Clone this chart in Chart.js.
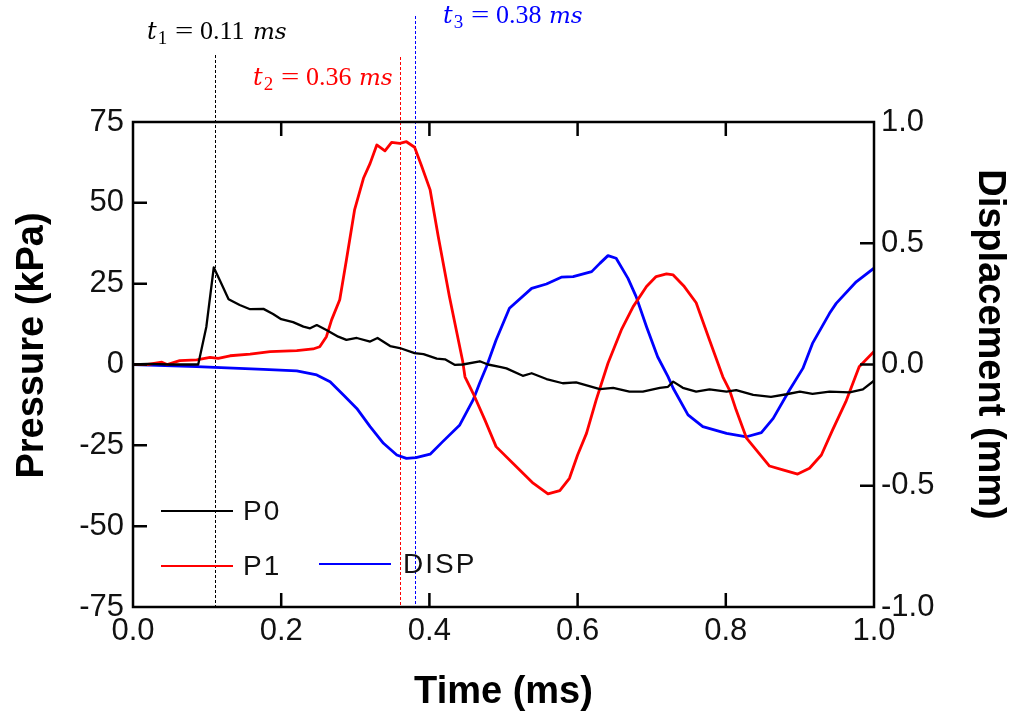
<!DOCTYPE html>
<html>
<head>
<meta charset="utf-8">
<script src="https://cdn.jsdelivr.net/npm/chart.js@4.4.1/dist/chart.umd.min.js"></script>
<style>
  html, body { margin: 0; padding: 0; background: #fff; overflow: hidden; }
  canvas { display: block; }
</style>
</head>
<body>
<canvas id="chart" width="1013" height="715"></canvas>
<script>
// Pressure at gauge P0 (kPa)
const p0Time = [0, 0.02, 0.05, 0.088, 0.099, 0.109, 0.117, 0.129, 0.144, 0.158, 0.176, 0.189, 0.2, 0.216, 0.23, 0.239, 0.248, 0.261, 0.277, 0.288, 0.302, 0.32, 0.33, 0.347, 0.36, 0.38, 0.392, 0.41, 0.421, 0.434, 0.445, 0.468, 0.479, 0.495, 0.504, 0.526, 0.538, 0.558, 0.58, 0.598, 0.63, 0.648, 0.67, 0.688, 0.711, 0.722, 0.729, 0.742, 0.76, 0.778, 0.801, 0.814, 0.837, 0.861, 0.882, 0.9, 0.917, 0.94, 0.967, 0.985, 1.0];
const p0Values = [0, 0.2, 0, 0, 11.7, 30.0, 26.1, 20.2, 18.4, 17.1, 17.2, 15.6, 14.0, 13.1, 11.7, 11.2, 12.2, 10.7, 8.6, 7.6, 8.2, 7.1, 8.2, 5.7, 5.1, 3.5, 3.2, 1.8, 1.6, -0.1, 0, 1.0, 0, -0.7, -1.2, -3.5, -2.7, -4.5, -5.8, -5.5, -7.6, -7.2, -8.4, -8.4, -7.2, -6.9, -5.3, -7.2, -8.4, -7.7, -8.4, -7.9, -9.4, -10.0, -9.2, -8.4, -9.1, -8.4, -8.6, -7.7, -5.0];

// Pressure at gauge P1 (kPa)
const p1Time = [0, 0.02, 0.039, 0.046, 0.063, 0.086, 0.104, 0.115, 0.131, 0.158, 0.185, 0.221, 0.243, 0.252, 0.261, 0.268, 0.279, 0.288, 0.299, 0.311, 0.32, 0.329, 0.34, 0.349, 0.36, 0.369, 0.38, 0.389, 0.401, 0.412, 0.427, 0.445, 0.448, 0.459, 0.475, 0.49, 0.513, 0.54, 0.56, 0.576, 0.589, 0.6, 0.612, 0.625, 0.641, 0.659, 0.675, 0.693, 0.706, 0.72, 0.729, 0.744, 0.76, 0.778, 0.796, 0.805, 0.814, 0.828, 0.841, 0.859, 0.877, 0.897, 0.913, 0.929, 0.944, 0.962, 0.98, 1.0];
const p1Values = [0, 0, 0.7, 0, 1.2, 1.4, 2.2, 1.9, 2.7, 3.2, 4.0, 4.3, 4.8, 5.5, 8.6, 13.8, 20.0, 32.3, 47.8, 57.6, 62.2, 67.9, 66.1, 68.7, 68.4, 68.9, 67.2, 61.7, 54.0, 39.5, 21.0, 0.9, -3.8, -8.9, -17.2, -25.4, -30.6, -36.7, -40.0, -39.0, -35.2, -28.0, -21.3, -11.0, 0.4, 10.7, 17.9, 24.1, 27.2, 28.0, 27.7, 24.1, 19.1, 7.6, -3.8, -7.9, -14.1, -22.8, -26.4, -31.4, -32.6, -33.9, -32.1, -28.0, -20.3, -11.5, -0.7, 4.0];

// Displacement (mm)
const dispTime = [0, 0.086, 0.176, 0.221, 0.248, 0.266, 0.284, 0.302, 0.32, 0.338, 0.356, 0.369, 0.382, 0.401, 0.418, 0.441, 0.459, 0.468, 0.477, 0.49, 0.508, 0.538, 0.558, 0.578, 0.594, 0.619, 0.63, 0.641, 0.652, 0.668, 0.679, 0.693, 0.708, 0.722, 0.729, 0.749, 0.769, 0.801, 0.828, 0.848, 0.864, 0.886, 0.904, 0.917, 0.94, 0.949, 0.976, 1.0];
const dispValues = [0, -0.009, -0.02, -0.026, -0.043, -0.071, -0.126, -0.181, -0.256, -0.325, -0.373, -0.387, -0.384, -0.37, -0.318, -0.249, -0.146, -0.075, -0.009, 0.101, 0.232, 0.314, 0.332, 0.36, 0.362, 0.383, 0.417, 0.449, 0.438, 0.355, 0.28, 0.156, 0.032, -0.05, -0.098, -0.208, -0.256, -0.284, -0.298, -0.281, -0.222, -0.105, -0.016, 0.087, 0.211, 0.252, 0.341, 0.397];

// Arrival-time markers (ms)
const markerTimes = [0.11, 0.36, 0.38];

// Axis ticks
const timeTicks = [0, 0.2, 0.4, 0.6, 0.8, 1.0];
const pressureTicks = [-75, -50, -25, 0, 25, 50, 75];
const dispTicks = [-1.0, -0.5, 0, 0.5, 1.0];

const SANS = '"Liberation Sans", Arial, sans-serif';
const TICK_FONT = { family: SANS, size: 31 };
const TICK_COLOR = '#111';

const pairs = (xs, ys) => xs.map((x, i) => ({ x, y: ys[i] }));

// Marker styling: line colour, top of the dashed line, label anchor
const markerStyles = [
  { color: '#000000', lineTop: 55, labelX: 147, labelY: 39 },
  { color: '#ff0000', lineTop: 57, labelX: 253, labelY: 85 },
  { color: '#0000ff', lineTop: 16, labelX: 443, labelY: 23 }
];

const markerLines = {
  id: 'markerLines',
  beforeDatasetsDraw(chart) {
    const { ctx, chartArea } = chart;
    const xs = chart.scales.x;
    ctx.save();
    ctx.lineWidth = 1;
    ctx.setLineDash([3, 2]);
    markerTimes.forEach((t, i) => {
      const st = markerStyles[i];
      const px = Math.round(xs.getPixelForValue(t)) + 0.5;
      ctx.strokeStyle = st.color;
      ctx.beginPath();
      ctx.moveTo(px, st.lineTop);
      ctx.lineTo(px, chartArea.bottom);
      ctx.stroke();
    });
    ctx.restore();
  },
  afterDraw(chart) {
    const { ctx } = chart;
    ctx.save();
    ctx.textAlign = 'left';
    ctx.textBaseline = 'alphabetic';
    markerTimes.forEach((t, i) => {
      const st = markerStyles[i];
      const x0 = st.labelX, y0 = st.labelY;
      ctx.fillStyle = st.color;
      ctx.font = 'italic 24px "DejaVu Serif", serif';
      ctx.fillText('t', x0, y0);
      const tw = ctx.measureText('t').width;
      ctx.font = '19px "Liberation Serif", serif';
      ctx.fillText(String(i + 1), x0 + tw + 1, y0 + 5);
      ctx.font = '26px "Liberation Serif", serif';
      ctx.save();
      ctx.scale(1.25, 1);
      ctx.fillText('=', (x0 + 28) / 1.25, y0);
      ctx.restore();
      ctx.fillText(t.toFixed(2), x0 + 53, y0);
      ctx.font = 'italic 23px "DejaVu Serif", serif';
      ctx.fillText('ms', x0 + 106, y0);
    });
    ctx.restore();
  }
};

const frameAndTitles = {
  id: 'frameAndTitles',
  afterDatasetsDraw(chart) {
    const { ctx, chartArea: a } = chart;
    const { x, y, y1 } = chart.scales;
    const tl = 14;
    ctx.save();
    ctx.strokeStyle = '#000';
    ctx.lineWidth = 2.5;
    ctx.setLineDash([]);
    ctx.strokeRect(a.left, a.top, a.right - a.left, a.bottom - a.top);
    ctx.beginPath();
    timeTicks.slice(1, -1).forEach(v => {
      const px = x.getPixelForValue(v);
      ctx.moveTo(px, a.bottom); ctx.lineTo(px, a.bottom - tl);
      ctx.moveTo(px, a.top); ctx.lineTo(px, a.top + tl);
    });
    pressureTicks.slice(1, -1).forEach(v => {
      const py = y.getPixelForValue(v);
      ctx.moveTo(a.left, py); ctx.lineTo(a.left + tl, py);
    });
    dispTicks.slice(1, -1).forEach(v => {
      const py = y1.getPixelForValue(v);
      ctx.moveTo(a.right, py); ctx.lineTo(a.right - tl, py);
    });
    ctx.stroke();
    ctx.restore();
  },
  afterDraw(chart) {
    const { ctx, chartArea: a } = chart;
    ctx.save();
    ctx.fillStyle = '#000';
    ctx.font = 'bold 38px ' + SANS;
    ctx.textAlign = 'center';
    ctx.textBaseline = 'alphabetic';
    ctx.fillText('Time (ms)', (a.left + a.right) / 2, 703);

    ctx.save();
    ctx.translate(43, 345.5);
    ctx.rotate(-Math.PI / 2);
    ctx.fillText('Pressure (kPa)', 0, 0);
    ctx.restore();

    ctx.save();
    ctx.translate(979, 344.5);
    ctx.rotate(Math.PI / 2);
    ctx.fillText('Displacement (mm)', 0, 0);
    ctx.restore();

    // Legend
    const entries = [
      { ds: 0, x1: 161, x2: 233, ly: 511, tx: 243 },
      { ds: 1, x1: 161, x2: 233, ly: 566, tx: 243 },
      { ds: 2, x1: 319, x2: 391, ly: 564, tx: 403 }
    ];
    ctx.font = '28px ' + SANS;
    ctx.letterSpacing = '2px';
    ctx.textAlign = 'left';
    ctx.textBaseline = 'middle';
    entries.forEach(e => {
      const ds = chart.data.datasets[e.ds];
      ctx.strokeStyle = ds.borderColor;
      ctx.lineWidth = 2.2;
      ctx.beginPath();
      ctx.moveTo(e.x1, e.ly); ctx.lineTo(e.x2, e.ly);
      ctx.stroke();
      ctx.fillStyle = '#111';
      ctx.fillText(ds.label, e.tx, e.ly + 1);
    });
    ctx.restore();
  }
};

new Chart(document.getElementById('chart'), {
  type: 'line',
  data: {
    datasets: [
      { label: 'P0', data: pairs(p0Time, p0Values), borderColor: '#000000', borderWidth: 2.3, yAxisID: 'y' },
      { label: 'P1', data: pairs(p1Time, p1Values), borderColor: '#ff0000', borderWidth: 2.8, yAxisID: 'y' },
      { label: 'DISP', data: pairs(dispTime, dispValues), borderColor: '#0000ff', borderWidth: 2.8, yAxisID: 'y1' }
    ]
  },
  options: {
    responsive: false,
    animation: false,
    devicePixelRatio: 1,
    elements: { point: { radius: 0 }, line: { tension: 0, borderJoinStyle: 'round', borderCapStyle: 'round' } },
    layout: { padding: { top: 122, left: 0, right: 0, bottom: 0 } },
    plugins: { legend: { display: false }, tooltip: { enabled: false } },
    scales: {
      x: {
        type: 'linear', position: 'bottom', min: 0, max: 1,
        grid: { display: false, drawTicks: false },
        border: { display: false },
        afterBuildTicks: s => { s.ticks = timeTicks.map(v => ({ value: v })); },
        afterFit: s => { s.height = 108; },
        ticks: { padding: 6, font: TICK_FONT, color: TICK_COLOR, maxRotation: 0, autoSkip: false,
                 callback: v => Number(v).toFixed(1) }
      },
      y: {
        type: 'linear', position: 'left', min: -75, max: 75,
        grid: { display: false, drawTicks: false },
        border: { display: false },
        afterBuildTicks: s => { s.ticks = pressureTicks.map(v => ({ value: v })); },
        afterFit: s => { s.width = 133; },
        ticks: { padding: 9, font: TICK_FONT, color: TICK_COLOR, autoSkip: false,
                 callback: v => String(v) }
      },
      y1: {
        type: 'linear', position: 'right', min: -1, max: 1,
        grid: { display: false, drawTicks: false },
        border: { display: false },
        afterBuildTicks: s => { s.ticks = dispTicks.map(v => ({ value: v })); },
        afterFit: s => { s.width = 139; },
        ticks: { padding: 7, font: TICK_FONT, color: TICK_COLOR, autoSkip: false,
                 callback: v => Number(v).toFixed(1) }
      }
    }
  },
  plugins: [markerLines, frameAndTitles]
});
</script>
</body>
</html>
